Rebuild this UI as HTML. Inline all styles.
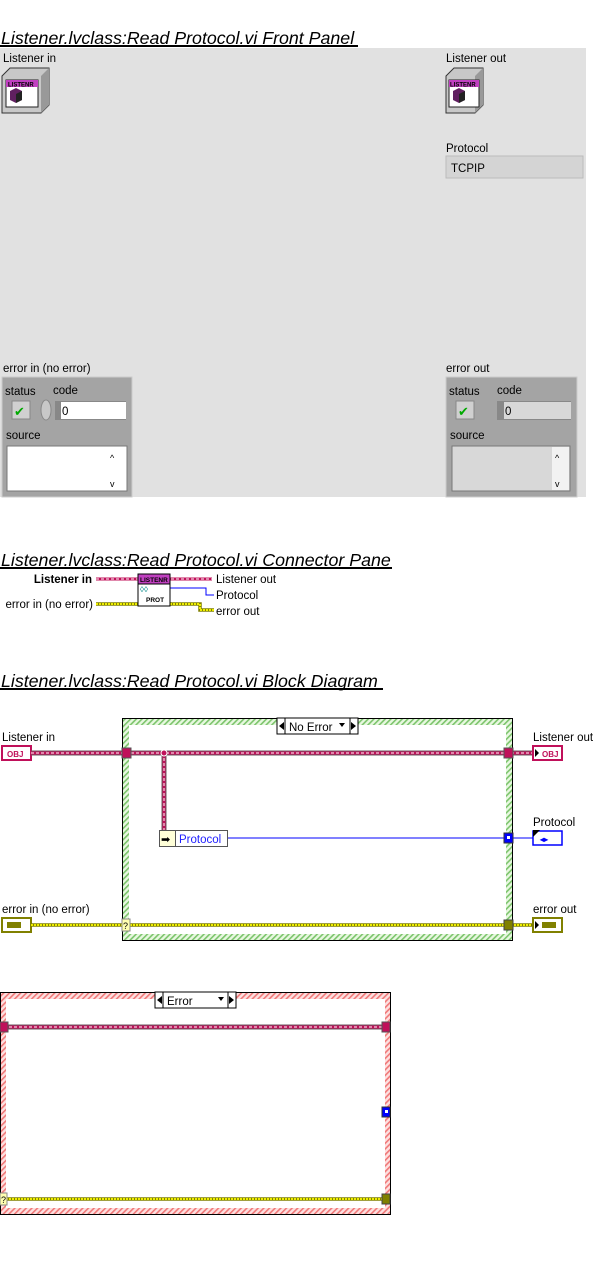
<!DOCTYPE html>
<html><head><meta charset="utf-8"><style>
body{margin:0;background:#fff;width:597px;height:1266px;overflow:hidden}
svg{display:block}
text{font-family:"Liberation Sans",sans-serif}
.t{font-size:17.8px;font-style:italic}
.s{font-size:11.5px}
</style></head><body>
<svg width="597" height="1266" viewBox="0 0 597 1266" xmlns="http://www.w3.org/2000/svg">
<defs>
<pattern id="hg" width="4" height="4" patternUnits="userSpaceOnUse" patternTransform="rotate(45)"><rect width="4" height="4" fill="#e8f8e0"/><rect width="1.6" height="4" fill="#7cc46c"/></pattern>
<pattern id="hr" width="4" height="4" patternUnits="userSpaceOnUse" patternTransform="rotate(45)"><rect width="4" height="4" fill="#fde0e0"/><rect width="1.6" height="4" fill="#f07878"/></pattern>
</defs>

<!-- Front panel -->
<text x="1" y="44" class="t">Listener.lvclass:Read Protocol.vi Front Panel</text>
<rect x="0" y="45" width="358" height="2" fill="#000"/>
<rect x="0" y="48" width="586" height="449" fill="#e1e1e1"/>
<text x="3" y="62" class="s">Listener in</text>
<g transform="translate(2,68)">
<polygon points="0,8 8,0 47,0 47,37 39,45 0,45" fill="#c8c8c8" stroke="#333"/>
<polygon points="39,8 47,0 47,37 39,45" fill="#999"/>
<rect x="4" y="12" width="32" height="27" fill="#fff" stroke="#222"/>
<rect x="4" y="12" width="32" height="7" fill="#c040c0"/>
<text x="6" y="18.5" font-size="6" fill="#000" font-weight="bold">LISTENR</text>
<polygon points="8,23 14,20 20,23 20,32 14,35 8,32" fill="#602060"/>
<polygon points="14,26 20,23 20,32 14,35" fill="#222"/>
</g>
<text x="446" y="62" class="s">Listener out</text>
<g transform="translate(446,68)">
<polygon points="0,8 8,0 37,0 37,37 29,45 0,45" fill="#c8c8c8" stroke="#333"/>
<polygon points="29,8 37,0 37,37 29,45" fill="#999"/>
<rect x="3" y="12" width="30" height="27" fill="#fff" stroke="#222"/>
<rect x="3" y="12" width="30" height="7" fill="#c040c0"/>
<text x="4" y="18.5" font-size="6" font-weight="bold">LISTENR</text>
<polygon points="7,23 13,20 19,23 19,32 13,35 7,32" fill="#602060"/>
<polygon points="13,26 19,23 19,32 13,35" fill="#222"/>
</g>
<text x="446" y="152" class="s">Protocol</text>
<rect x="446" y="156" width="137" height="22" fill="#d4d4d4" stroke="#bbb"/>
<text x="451" y="172" class="s">TCPIP</text>

<text x="3" y="372" class="s">error in (no error)</text>
<rect x="2" y="377" width="130" height="120" fill="#a4a4a4" stroke="#ccc"/>
<text x="5" y="395" class="s">status</text><text x="53" y="394" class="s">code</text>
<rect x="12" y="401" width="18" height="18" fill="#d0d0d0" stroke="#888"/>
<text x="14" y="416" font-size="13" fill="#0a0">✔</text>
<ellipse cx="46" cy="410" rx="5" ry="10" fill="#c8c8c8" stroke="#888"/>
<rect x="55" y="401" width="71" height="19" fill="#888"/>
<rect x="61" y="402" width="65" height="17" fill="#fff"/>
<text x="62" y="415" class="s">0</text>
<text x="6" y="439" class="s">source</text>
<rect x="7" y="446" width="120" height="45" fill="#fff" stroke="#777"/>
<text x="110" y="461" font-size="9">^</text><text x="110" y="487" font-size="9">v</text>

<text x="446" y="372" class="s">error out</text>
<rect x="446" y="377" width="131" height="120" fill="#a4a4a4" stroke="#ccc"/>
<text x="449" y="395" class="s">status</text><text x="497" y="394" class="s">code</text>
<rect x="456" y="401" width="18" height="18" fill="#d0d0d0" stroke="#888"/>
<text x="458" y="416" font-size="13" fill="#0a0">✔</text>
<rect x="497" y="401" width="74" height="19" fill="#888"/>
<rect x="504" y="402" width="67" height="17" fill="#d8d8d8"/>
<text x="505" y="415" class="s">0</text>
<text x="450" y="439" class="s">source</text>
<rect x="452" y="446" width="118" height="45" fill="#d8d8d8" stroke="#777"/>
<rect x="552" y="447" width="17" height="43" fill="#f2f2f2"/>
<text x="555" y="461" font-size="9">^</text><text x="555" y="487" font-size="9">v</text>

<!-- Connector pane -->
<text x="1" y="566" class="t">Listener.lvclass:Read Protocol.vi Connector Pane</text>
<rect x="0" y="567" width="392" height="2" fill="#000"/>
<text x="92" y="583" class="s" font-weight="bold" text-anchor="end">Listener in</text>
<text x="93" y="608" class="s" text-anchor="end">error in (no error)</text>
<line x1="96" y1="579" x2="212" y2="579" stroke="#c0105a" stroke-width="3"/>
<line x1="96" y1="579" x2="212" y2="579" stroke="#fff" stroke-width="1" stroke-dasharray="3,2"/>
<line x1="96" y1="604" x2="138" y2="604" stroke="#808000" stroke-width="3.5"/>
<line x1="96" y1="604" x2="138" y2="604" stroke="#ee0" stroke-width="2" stroke-dasharray="2,1"/>
<polyline points="170,604 200,604 200,610 214,610" fill="none" stroke="#808000" stroke-width="3.5"/>
<polyline points="170,604 200,604 200,610 214,610" fill="none" stroke="#ee0" stroke-width="2" stroke-dasharray="2,1"/>
<polyline points="170,588 206,588 206,595 214,595" fill="none" stroke="#0000ff" stroke-width="1"/>
<rect x="138" y="574" width="32" height="32" fill="#fff" stroke="#000"/>
<rect x="138" y="574" width="32" height="10" fill="#c040c0" stroke="#000"/>
<text x="140" y="582" font-size="6.5" font-weight="bold">LISTENR</text>
<text x="140" y="592" font-size="8" fill="#088">◊◊</text>
<text x="146" y="602" font-size="6.5" font-weight="bold">PROT</text>
<text x="216" y="583" class="s">Listener out</text>
<text x="216" y="599" class="s">Protocol</text>
<text x="216" y="615" class="s">error out</text>

<!-- Block diagram -->
<text x="1" y="687" class="t">Listener.lvclass:Read Protocol.vi Block Diagram</text>
<rect x="0" y="688" width="383" height="2" fill="#000"/>
<rect x="122.5" y="718.5" width="390" height="222" fill="url(#hg)" stroke="#000"/>
<rect x="129" y="725" width="377" height="209" fill="#fff"/>
<rect x="277" y="718" width="81" height="16" fill="#fff" stroke="#000"/>
<line x1="285" y1="718" x2="285" y2="734" stroke="#000"/><line x1="350" y1="718" x2="350" y2="734" stroke="#000"/>
<polygon points="279,726 284,722 284,730" fill="#000"/><polygon points="356,726 351,722 351,730" fill="#000"/>
<polygon points="339,723 345,723 342,727" fill="#000"/>
<text x="289" y="731" class="s">No Error</text>

<text x="2" y="741" class="s">Listener in</text>
<rect x="2" y="746" width="29" height="14" fill="#fff" stroke="#c0105a" stroke-width="2"/>
<text x="7" y="757" font-size="8" font-weight="bold" fill="#c0105a">OBJ</text>
<g fill="none">
<line x1="31" y1="753" x2="533" y2="753" stroke="#6b5a60" stroke-width="5"/>
<line x1="31" y1="753" x2="533" y2="753" stroke="#c0105a" stroke-width="3"/>
<line x1="31" y1="753" x2="533" y2="753" stroke="#fff" stroke-width="1" stroke-dasharray="3,2"/>
<line x1="164" y1="753" x2="164" y2="832" stroke="#6b5a60" stroke-width="5"/>
<line x1="164" y1="753" x2="164" y2="832" stroke="#c0105a" stroke-width="3"/>
<line x1="164" y1="753" x2="164" y2="832" stroke="#fff" stroke-width="1" stroke-dasharray="3,2"/>
</g>
<circle cx="164" cy="753" r="3" fill="#c0105a" stroke="#fff"/>
<rect x="122" y="748" width="9" height="10" fill="#c0105a" stroke="#555"/>
<rect x="504" y="748" width="9" height="10" fill="#c0105a" stroke="#555"/>
<text x="533" y="741" class="s">Listener out</text>
<rect x="533" y="746" width="29" height="14" fill="#fff" stroke="#c0105a" stroke-width="2"/>
<text x="542" y="757" font-size="8" font-weight="bold" fill="#c0105a">OBJ</text>
<polygon points="535,749 539,753 535,757" fill="#000"/>

<line x1="227" y1="838" x2="533" y2="838" stroke="#0000ff" stroke-width="1"/>
<rect x="159.5" y="830.5" width="16" height="16" fill="#ffffd8" stroke="#555"/>
<text x="161" y="843" font-size="11">➡</text>
<rect x="175.5" y="830.5" width="52" height="16" fill="#fff" stroke="#555"/>
<text x="179" y="843" class="s" fill="#2020ff">Protocol</text>
<rect x="504" y="833" width="9" height="10" fill="#0000ff" stroke="#333"/>
<rect x="507" y="836" width="3" height="3" fill="#fff"/>
<text x="533" y="826" class="s">Protocol</text>
<rect x="533" y="831" width="29" height="14" fill="#fff" stroke="#0000ff" stroke-width="1.5"/>
<polygon points="533,830 540,830 533,837" fill="#000"/>
<text x="540" y="842" font-size="8" fill="#0000ff" font-weight="bold">◂▸</text>

<text x="2" y="913" class="s">error in (no error)</text>
<rect x="2" y="918" width="29" height="14" fill="#fff" stroke="#808000" stroke-width="2"/>
<rect x="7" y="922" width="14" height="6" fill="#808000"/>
<line x1="31" y1="925" x2="533" y2="925" stroke="#808000" stroke-width="3.5"/>
<line x1="31" y1="925" x2="533" y2="925" stroke="#ee0" stroke-width="2" stroke-dasharray="2,1"/>
<rect x="122" y="919" width="8" height="12" fill="#ffffb0" stroke="#888"/>
<text x="123" y="929" font-size="9">?</text>
<rect x="504" y="920" width="9" height="10" fill="#808000" stroke="#444"/>
<text x="533" y="913" class="s">error out</text>
<rect x="533" y="918" width="29" height="14" fill="#fff" stroke="#808000" stroke-width="2"/>
<rect x="542" y="922" width="14" height="6" fill="#808000"/>
<polygon points="535,921 539,925 535,929" fill="#000"/>

<!-- Error case -->
<rect x="0.5" y="992.5" width="390" height="222" fill="url(#hr)" stroke="#000"/>
<rect x="6" y="999" width="379" height="209" fill="#fff"/>
<rect x="155" y="992" width="81" height="16" fill="#fff" stroke="#000"/>
<line x1="163" y1="992" x2="163" y2="1008" stroke="#000"/><line x1="228" y1="992" x2="228" y2="1008" stroke="#000"/>
<polygon points="157,1000 162,996 162,1004" fill="#000"/><polygon points="234,1000 229,996 229,1004" fill="#000"/>
<polygon points="218,997 224,997 221,1001" fill="#000"/>
<text x="167" y="1005" class="s">Error</text>
<line x1="4" y1="1027" x2="386" y2="1027" stroke="#6b5a60" stroke-width="5"/>
<line x1="4" y1="1027" x2="386" y2="1027" stroke="#c0105a" stroke-width="3"/>
<line x1="4" y1="1027" x2="386" y2="1027" stroke="#fff" stroke-width="1" stroke-dasharray="3,2"/>
<rect x="0" y="1022" width="8" height="10" fill="#c0105a" stroke="#555"/>
<rect x="382" y="1022" width="8" height="10" fill="#c0105a" stroke="#555"/>
<rect x="382" y="1107" width="8" height="10" fill="#0000ff" stroke="#333"/>
<rect x="385" y="1110" width="3" height="3" fill="#fff"/>
<line x1="6" y1="1199" x2="384" y2="1199" stroke="#808000" stroke-width="3.5"/>
<line x1="6" y1="1199" x2="384" y2="1199" stroke="#ee0" stroke-width="2" stroke-dasharray="2,1"/>
<rect x="0" y="1193" width="7" height="12" fill="#ffffb0" stroke="#888"/>
<text x="1" y="1203" font-size="9">?</text>
<rect x="382" y="1194" width="8" height="10" fill="#808000" stroke="#444"/>
</svg>
</body></html>
